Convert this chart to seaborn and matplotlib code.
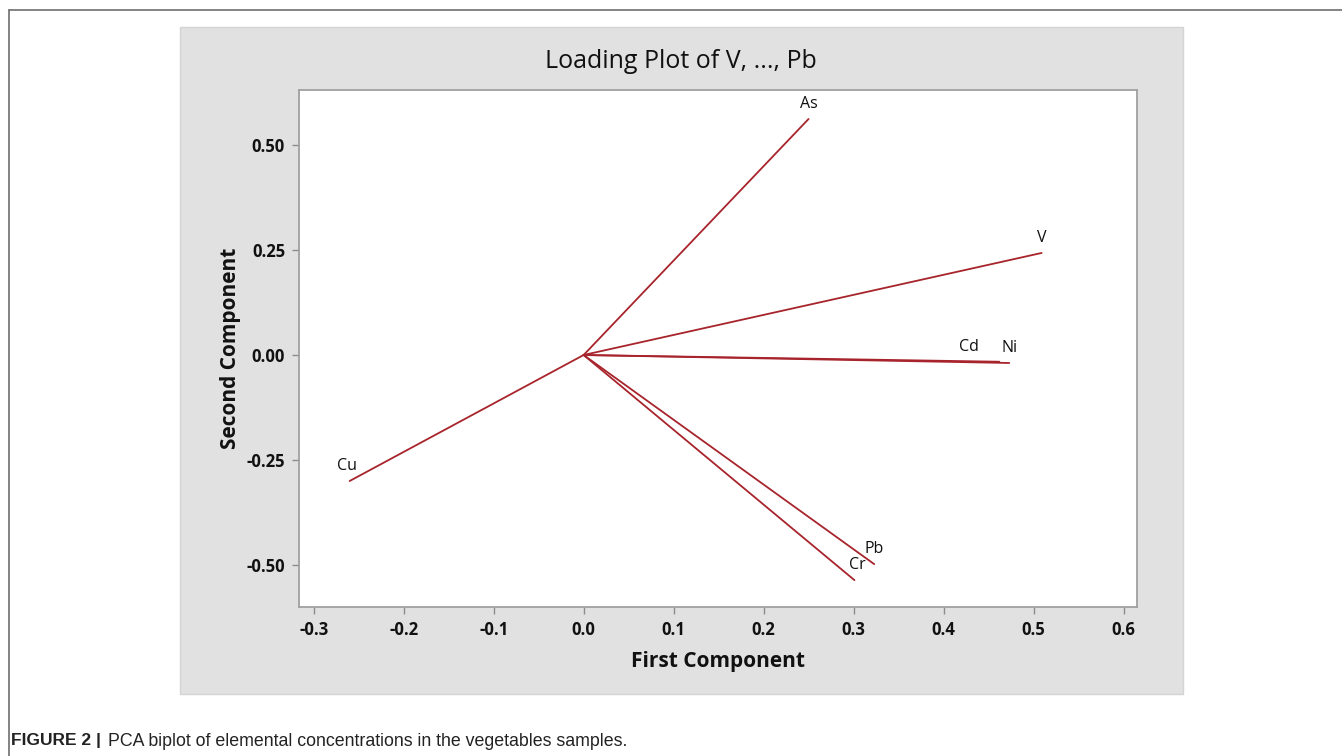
import pandas as pd
import seaborn as sns
import matplotlib.pyplot as plt
from matplotlib.patches import Rectangle
from matplotlib.lines import Line2D

# loadings
variables = ['As', 'V', 'Cd', 'Ni', 'Pb', 'Cr', 'Cu']
pc1 = [0.250, 0.509, 0.462, 0.473, 0.323, 0.301, -0.260]
pc2 = [0.562, 0.243, -0.016, -0.019, -0.498, -0.536, -0.300]

x_ticks = [-0.3, -0.2, -0.1, 0.0, 0.1, 0.2, 0.3, 0.4, 0.5, 0.6]
y_ticks = [-0.50, -0.25, 0.00, 0.25, 0.50]

sns.set_theme(style='white')
plt.rcParams['font.family'] = ['Open Sans', 'DejaVu Sans']
plt.rcParams['axes.unicode_minus'] = False

W, H = 1342, 756
fig = plt.figure(figsize=(W / 100, H / 100), dpi=100)

def fx(px):
    return px / W

def fy(py):
    return 1 - py / H

# page frame lines (top and left)
fig.add_artist(Line2D([fx(9), 1], [fy(10), fy(10)], color='#6e6e6e', lw=1.2))
fig.add_artist(Line2D([fx(9), fx(9)], [fy(10), 0], color='#6e6e6e', lw=1.2))

# grey chart panel
fig.add_artist(Rectangle((fx(180), fy(694)), fx(1183) - fx(180), fy(27) - fy(694),
                         facecolor='#e1e1e1', edgecolor='#d4d4d4', lw=1, zorder=0))

ax = fig.add_axes([fx(299), fy(607), fx(1137) - fx(299), fy(90) - fy(607)])
ax.set_facecolor('white')

rows = []
for v, a, b in zip(variables, pc1, pc2):
    rows.append({'var': v, 'x': 0.0, 'y': 0.0})
    rows.append({'var': v, 'x': a, 'y': b})
df = pd.DataFrame(rows)

sns.lineplot(data=df, x='x', y='y', units='var', estimator=None, sort=False,
             color='#a8242c', lw=1.3, ax=ax)

label_offsets = {'As': (0, 5), 'V': (0, 5), 'Cd': (-22, 5), 'Ni': (0, 5),
                 'Pb': (0, 5), 'Cr': (2, 5), 'Cu': (-2, 5)}
for v, a, b in zip(variables, pc1, pc2):
    ax.annotate(v, (a, b), xytext=label_offsets[v], textcoords='offset points',
                ha='center', va='bottom', fontsize=11.5, color='#111111')

ax.set_xlim(-0.3163, 0.615)
ax.set_ylim(-0.600, 0.631)
ax.set_xticks(x_ticks)
ax.set_xticklabels([f'{t:.1f}' for t in x_ticks])
ax.set_yticks(y_ticks)
ax.set_yticklabels([f'{t:.2f}' for t in y_ticks])
ax.tick_params(axis='both', direction='out', length=5, width=1, color='#8c8c8c',
               labelsize=12, labelcolor='#111111', bottom=True, left=True, pad=5)
for lab in ax.get_xticklabels() + ax.get_yticklabels():
    lab.set_fontweight('bold')
for s in ax.spines.values():
    s.set_color('#a0a0a0')
    s.set_linewidth(1.3)

ax.set_xlabel('First Component', fontsize=15, fontweight='bold', color='#111111', labelpad=9)
ax.set_ylabel('Second Component', fontsize=15, fontweight='bold', color='#111111', labelpad=4)

fig.text(fx(681), fy(61), 'Loading Plot of V, ..., Pb', ha='center', va='center',
         fontsize=18, color='#111111')

# caption
fig.text(fx(11), fy(741), 'FIGURE 2 |', ha='left', va='center',
         fontsize=12.5, fontweight='bold', family=['Liberation Sans', 'DejaVu Sans'],
         color='#222222')
fig.text(fx(108), fy(741), 'PCA biplot of elemental concentrations in the vegetables samples.',
         ha='left', va='center', fontsize=12.8, family=['Liberation Sans', 'DejaVu Sans'],
         color='#222222')

fig.savefig('out.png', dpi=100, facecolor='white')
